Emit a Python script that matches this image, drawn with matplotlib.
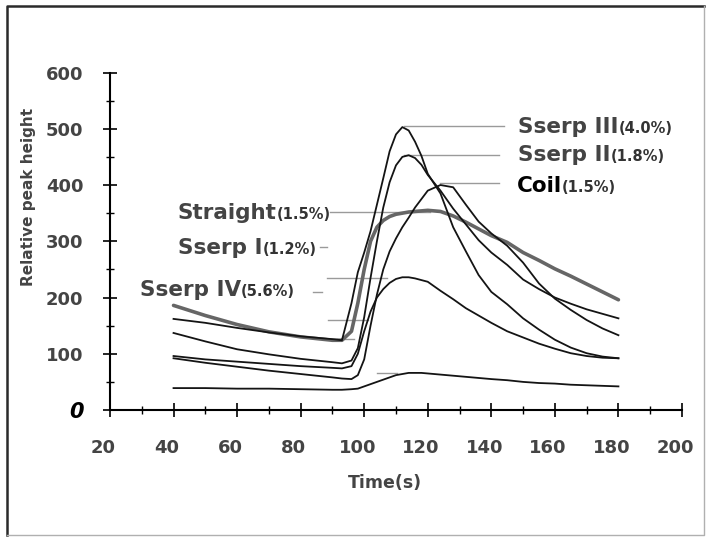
"""Relative peak height vs time for the straight, coil and serpentine channels."""
import matplotlib
matplotlib.use("Agg")
import matplotlib.pyplot as plt
import matplotlib.transforms as mtransforms
from matplotlib.lines import Line2D
from matplotlib.ticker import MultipleLocator

plt.rcParams["font.family"] = ["DejaVu Sans"]
plt.rcParams["font.weight"] = "bold"

# sampling times (s), shared by all traces
TIME = [40, 50, 60, 70, 80, 90, 93, 96, 98, 100, 102, 104, 106, 108, 110, 112,
        114, 116, 118, 120, 124, 128, 132, 136, 140, 145, 150, 155, 160, 165,
        170, 175, 180]

STRAIGHT = [186, 168, 152, 139, 130, 124, 124, 140, 190, 250, 300, 325, 337,
            344, 348, 350, 352, 353, 354, 355, 353, 345, 334, 322, 310, 298,
            280, 266, 251, 238, 224, 210, 196]
SSERP_III = [162, 155, 146, 138, 131, 126, 124, 190, 245, 280, 318, 365, 412,
             460, 490, 503, 497, 477, 452, 420, 385, 325, 282, 240, 210, 188,
             163, 143, 125, 111, 101, 95, 92]
SSERP_II = [137, 122, 108, 99, 91, 85, 83, 88, 110, 165, 235, 300, 360, 405,
            435, 450, 453, 448, 436, 418, 390, 358, 330, 302, 280, 258, 232,
            215, 200, 189, 179, 171, 163]
COIL = [92, 84, 77, 70, 64, 58, 56, 55, 62, 90, 150, 205, 250, 282, 305, 325,
        342, 360, 375, 390, 400, 396, 365, 335, 314, 292, 262, 225, 198, 178,
        160, 145, 133]
SSERP_I = [96, 90, 86, 82, 78, 75, 74, 78, 100, 140, 175, 200, 215, 226, 233,
           236, 236, 234, 231, 228, 212, 197, 181, 168, 155, 140, 129, 118, 109,
           101, 96, 93, 92]
SSERP_IV = [39, 39, 38, 38, 37, 36, 36, 37, 38, 42, 46, 50, 54, 58, 62, 64, 66,
            66, 66, 65, 63, 61, 59, 57, 55, 53, 50, 48, 47, 45, 44, 43, 42]

# (name, concentration, series)
SERIES = [
    ("Straight", "(1.5%)", STRAIGHT),
    ("Sserp III", "(4.0%)", SSERP_III),
    ("Sserp II", "(1.8%)", SSERP_II),
    ("Coil", "(1.5%)", COIL),
    ("Sserp I", "(1.2%)", SSERP_I),
    ("Sserp IV", "(5.6%)", SSERP_IV),
]

# label anchor (time, height) for each named trace
LABEL_AT = {
    "Sserp III": (148.4, 503),
    "Sserp II": (148.4, 453),
    "Coil": (148.1, 398),
    "Straight": (41.4, 350),
    "Sserp I": (41.4, 288),
    "Sserp IV": (29.4, 213),
}

# leader line pieces left in the scan: (t_start, t_end, height)
LEADERS = [
    (112.4, 143.9, 505), (112.4, 142.3, 453), (124.0, 142.3, 403),
    (89.2, 120.7, 352), (86.0, 88.2, 290), (88.2, 107.1, 235),
    (83.8, 86.6, 210), (88.5, 101.1, 160), (91.4, 96.7, 126),
    (104.0, 110.3, 66),
]

TEXT_GRAY = "#444444"

fig = plt.figure(figsize=(7.09, 5.40), dpi=100)
ax = fig.add_axes([0.1551, 0.2407, 0.8068, 0.625])

for t0, t1, h in LEADERS:
    ax.plot([t0, t1], [h, h], color="#9a9a9a", lw=1.0, zorder=1)

for name, _, values in SERIES:
    if name == "Straight":
        ax.plot(TIME, values, color="#666666", lw=2.6, zorder=2,
                solid_capstyle="round")
    else:
        ax.plot(TIME, values, color="#141414", lw=1.3, zorder=3)

for name, pct, _ in SERIES:
    t, h = LABEL_AT[name]
    color = "black" if name == "Coil" else TEXT_GRAY
    big = ax.text(t, h, name, fontsize=15.5, fontweight="bold", color=color,
                  ha="left", va="center", clip_on=False)
    ax.annotate(pct, xy=(1, 0.04), xycoords=big, fontsize=10.5,
                fontweight="bold", color="#333333", ha="left", va="bottom",
                annotation_clip=False)

ax.set_xlim(20, 200)
ax.set_ylim(0, 600)
ax.xaxis.set_major_locator(MultipleLocator(20))
ax.xaxis.set_minor_locator(MultipleLocator(10))
ax.yaxis.set_major_locator(MultipleLocator(100))
ax.yaxis.set_minor_locator(MultipleLocator(50))
ax.tick_params(which="major", direction="inout", length=10, width=1.2,
               colors="black", labelsize=13, labelcolor=TEXT_GRAY)
ax.tick_params(axis="x", which="major", pad=16)
ax.tick_params(axis="y", which="major", pad=14)
ax.tick_params(which="minor", direction="inout", length=6, width=1.0)

for side in ("top", "right"):
    ax.spines[side].set_visible(False)
for side in ("left", "bottom"):
    ax.spines[side].set_linewidth(1.5)

fig.canvas.draw()
for lbl in ax.get_yticklabels():
    if lbl.get_text() in ("0", "\u22120"):
        lbl.set_text("0")
        lbl.set_fontstyle("italic")
        lbl.set_color("black")
        lbl.set_fontsize(15)

shift = mtransforms.ScaledTranslation(-7 / 100, 0, fig.dpi_scale_trans)
for lbl in ax.get_xticklabels():
    lbl.set_transform(lbl.get_transform() + shift)

ax.set_xlabel("Time(s)", fontsize=12.5, fontweight="bold", color=TEXT_GRAY)
ax.xaxis.set_label_coords(0.48, -0.19)
ax.set_ylabel("Relative peak height", fontsize=11, fontweight="bold",
              color=TEXT_GRAY)
ax.yaxis.set_label_coords(-0.13, 0.63)

# scanned page frame: dark left/top, faint right/bottom
x0, x1 = 7 / 709, 704 / 709
y0, y1 = 5 / 540, 534 / 540
fig.add_artist(Line2D([x0, x0, x1], [y0, y1, y1], transform=fig.transFigure,
                      color="#2a2a2a", lw=1.8))
fig.add_artist(Line2D([x0, x1, x1], [y0, y0, y1], transform=fig.transFigure,
                      color="#b0b0b0", lw=1.0))

fig.savefig("out.png", dpi=100)
